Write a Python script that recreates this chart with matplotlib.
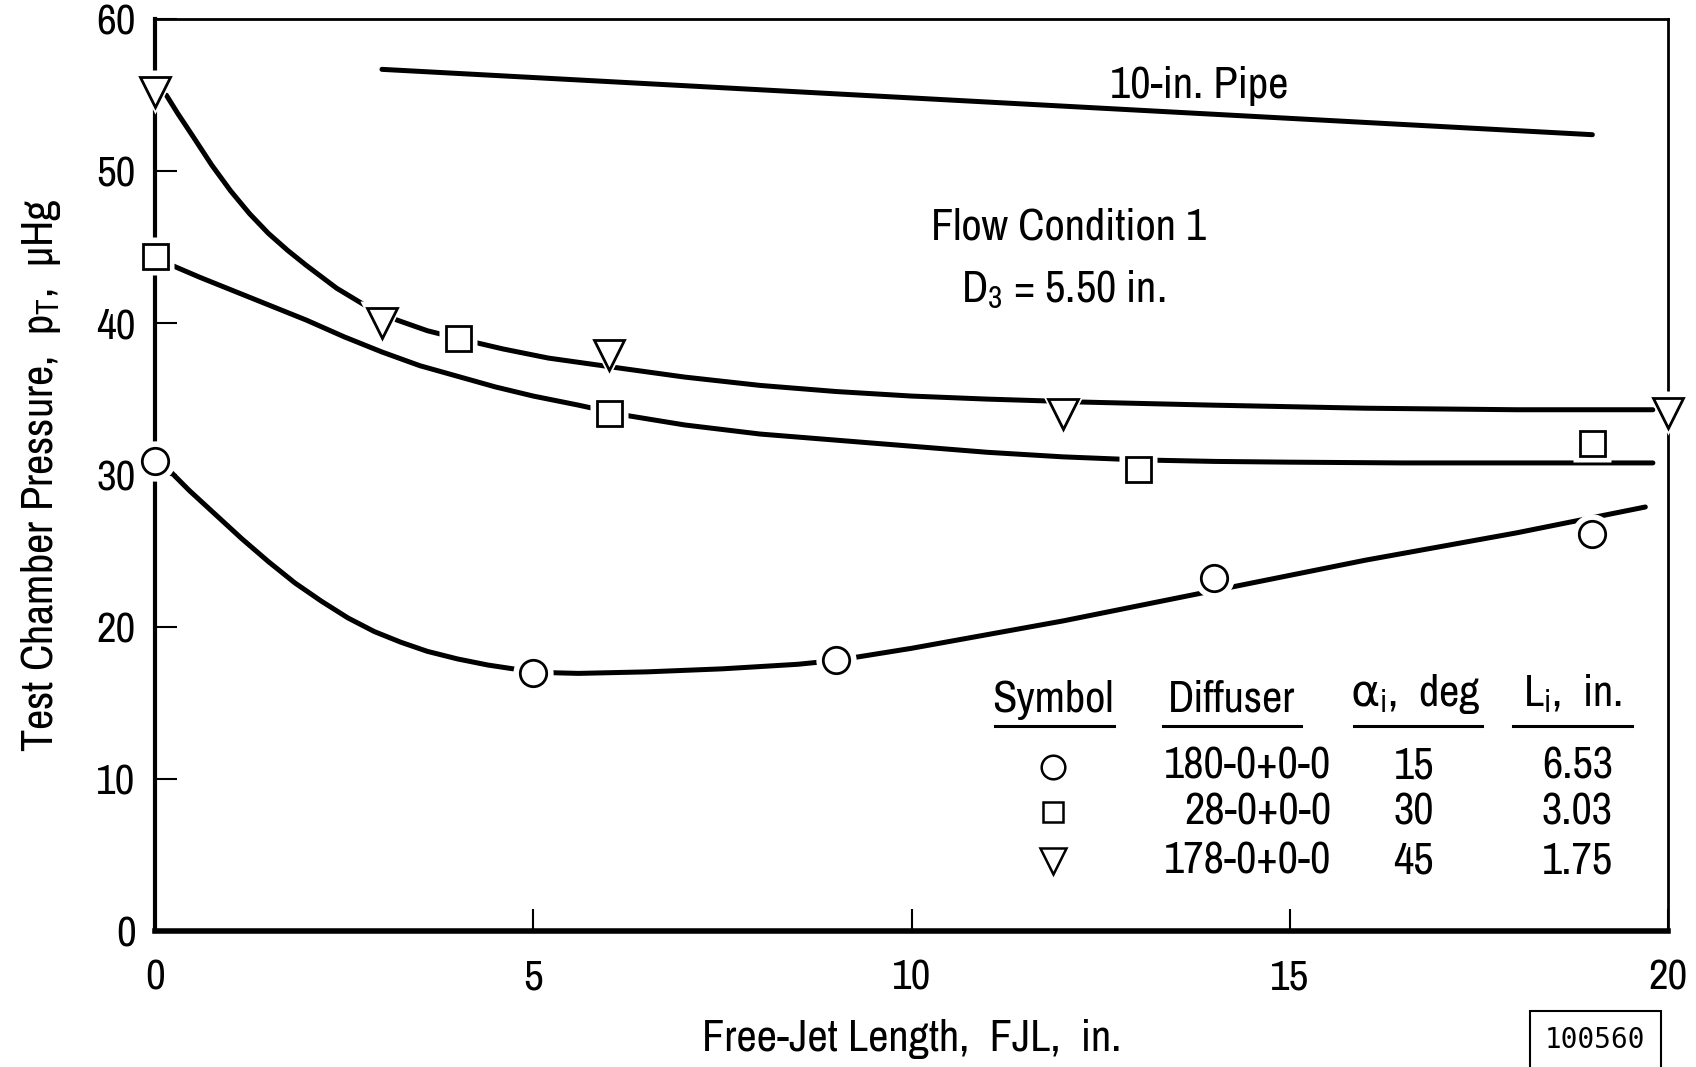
import matplotlib
matplotlib.use("Agg")
import matplotlib.pyplot as plt
from matplotlib import font_manager

# look for a narrow / condensed face
fam = "DejaVu Sans"
stretch = "normal"
narrow = [f.name for f in font_manager.fontManager.ttflist
          if 'Narrow' in f.name or 'Condensed' in f.name]
cond = [f.name for f in font_manager.fontManager.ttflist
        if f.stretch in ('condensed', 'semi-condensed', 'extra-condensed')]
if narrow:
    fam = narrow[0]
elif cond:
    fam = cond[0]
    stretch = 'condensed'

plt.rcParams['font.family'] = [fam, 'DejaVu Sans']
plt.rcParams['font.stretch'] = stretch
plt.rcParams['mathtext.fontset'] = 'custom'
plt.rcParams['mathtext.rm'] = fam
plt.rcParams['mathtext.it'] = fam
plt.rcParams['mathtext.sf'] = 'DejaVu Sans'   # greek letters, upright
plt.rcParams['mathtext.default'] = 'rm'

# measured points
circ_x = [0, 5, 9, 14, 19]
circ_y = [30.9, 17.0, 17.8, 23.2, 26.1]
sq_x = [0, 4, 6, 13, 19]
sq_y = [44.4, 39.0, 34.1, 30.4, 32.1]
tri_x = [0, 3, 6, 12, 20]
tri_y = [55.2, 40.0, 37.9, 34.0, 34.1]

# faired curves
circ_cx = [0.13, 0.45, 0.8, 1.15, 1.5, 1.85, 2.2, 2.55, 2.9, 3.25, 3.6, 4.0, 4.4, 4.8, 5.2,
           5.6, 6.5, 7.5, 8.5, 9.0, 10.0, 11.0, 12.0, 13.0, 14.0, 15.0, 16.0, 17.0, 18.0,
           19.0, 19.7]
circ_cy = [30.6, 29.0, 27.4, 25.8, 24.3, 22.9, 21.7, 20.6, 19.7, 19.0, 18.4, 17.9, 17.5, 17.2, 17.0,
           16.95, 17.05, 17.25, 17.55, 17.8, 18.6, 19.5, 20.4, 21.4, 22.4, 23.4, 24.4, 25.3, 26.2,
           27.2, 27.9]
sq_cx = [0.13, 0.6, 1.0, 1.5, 2.0, 2.5, 3.0, 3.5, 4.0, 4.5, 5.0, 5.6, 6.2, 7.0, 8.0,
         9.0, 10.0, 11.0, 12.0, 13.0, 14.0, 15.0, 16.5, 18.0, 19.8]
sq_cy = [44.0, 43.0, 42.2, 41.2, 40.2, 39.1, 38.1, 37.2, 36.5, 35.8, 35.2, 34.6, 33.95, 33.3, 32.7,
         32.3, 31.9, 31.5, 31.2, 31.0, 30.9, 30.85, 30.8, 30.8, 30.8]
tri_cx = [0.15, 0.3, 0.5, 0.75, 1.0, 1.25, 1.5, 1.75, 2.0, 2.4, 2.8, 3.2, 3.6, 4.0, 4.6,
          5.2, 6.2, 7.0, 8.0, 9.0, 10.0, 11.0, 12.3, 14.0, 16.0, 18.0, 19.8]
tri_cy = [55.0, 53.8, 52.3, 50.4, 48.7, 47.2, 45.9, 44.8, 43.8, 42.3, 41.1, 40.2, 39.5, 39.0, 38.3,
          37.7, 37.0, 36.45, 35.9, 35.5, 35.2, 35.0, 34.8, 34.6, 34.4, 34.3, 34.3]

pipe_x = [3, 19]
pipe_y = [56.7, 52.4]

symbols = ['o', 's', 'v']
diffusers = ['180-0+0-0', '28-0+0-0', '178-0+0-0']
alphas = ['15', '30', '45']
lengths = ['6.53', '3.03', '1.75']

narrow_ok = fam != "DejaVu Sans" or stretch != "normal"
fs_tick = 31 if narrow_ok else 27
fs_txt = 32 if narrow_ok else 27
fs_lab = 32 if narrow_ok else 27

fig = plt.figure(figsize=(16.96, 10.67), dpi=100)
ax = fig.add_axes([0.0914, 0.1275, 0.8921, 0.8545])

lw = 3.6
ax.plot(pipe_x, pipe_y, color='black', lw=lw, solid_capstyle='round')
for cx, cy in [(circ_cx, circ_cy), (sq_cx, sq_cy), (tri_cx, tri_cy)]:
    ax.plot(cx, cy, color='black', lw=lw, solid_capstyle='round', solid_joinstyle='round')

# white halo around markers to break the curves, then open markers
for xs, ys, m, ms in [(circ_x, circ_y, 'o', 19), (sq_x, sq_y, 's', 18), (tri_x, tri_y, 'v', 22)]:
    ax.plot(xs, ys, ls='none', marker=m, ms=ms + 10, mfc='white', mec='none', clip_on=False, zorder=3)
    ax.plot(xs, ys, ls='none', marker=m, ms=ms, mfc='white', mec='black', mew=2.0, clip_on=False, zorder=4)

ax.set_xlim(0, 20)
ax.set_ylim(0, 60)
ax.set_xticks([0, 5, 10, 15, 20])
ax.set_yticks([0, 10, 20, 30, 40, 50, 60])
ax.tick_params(direction='in', length=16, width=1.5, labelsize=fs_tick, pad=14, color='black')
ax.tick_params(axis='x', pad=20)
for s in ax.spines.values():
    s.set_linewidth(2.0)
ax.spines['bottom'].set_linewidth(4)
ax.spines['left'].set_linewidth(3)

ax.set_xlabel('Free-Jet Length,  FJL,  in.', fontsize=fs_lab, labelpad=16)
ax.set_ylabel('Test Chamber Pressure,  p$_\\mathrm{T}$,  \u03bcHg', fontsize=fs_lab, labelpad=24)

ax.text(13.8, 55.6, '10-in. Pipe', fontsize=fs_txt, ha='center', va='center')
ax.text(12.08, 46.3, 'Flow Condition 1', fontsize=fs_txt, ha='center', va='center')
ax.text(12.0, 42.2, 'D$_3$ = 5.50 in.', fontsize=fs_txt, ha='center', va='center')

# legend table
hy = 15.2
ax.text(11.87, hy, 'Symbol', fontsize=fs_txt, ha='center', va='center')
ax.text(14.23, hy, 'Diffuser', fontsize=fs_txt, ha='center', va='center')
ax.text(16.66, hy + 0.4, '$\\mathsf{\\alpha}_\\mathrm{i}$,  deg', fontsize=fs_txt, ha='center', va='center')
ax.text(18.74, hy + 0.4, 'L$_\\mathrm{i}$,  in.', fontsize=fs_txt, ha='center', va='center')
for x0, x1 in [(11.1, 12.68), (13.33, 15.15), (15.85, 17.54), (17.95, 19.53)]:
    ax.plot([x0, x1], [13.5, 13.5], color='black', lw=2.2)
row_y = [10.8, 7.8, 4.6]
for i in range(3):
    ax.plot([11.87], [row_y[i]], ls='none', marker=symbols[i], ms=[17, 15, 19][i],
            mfc='white', mec='black', mew=1.8)
    ax.text(15.55, row_y[i], diffusers[i], fontsize=fs_txt, ha='right', va='center')
    ax.text(16.64, row_y[i], alphas[i], fontsize=fs_txt, ha='center', va='center')
    ax.text(19.27, row_y[i], lengths[i], fontsize=fs_txt, ha='right', va='center')

fig.text(0.9405, 0.025, '100560', fontsize=20, family='DejaVu Sans Mono', ha='center', va='center',
         bbox=dict(boxstyle='square,pad=0.55', fc='white', ec='black', lw=1.5))

fig.savefig('out.png', dpi=100)
